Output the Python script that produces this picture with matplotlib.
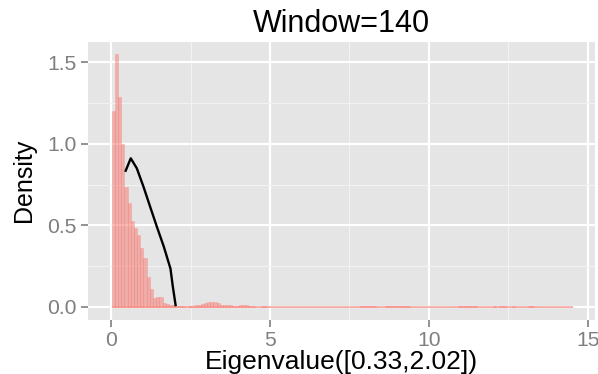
import numpy as np
import matplotlib
matplotlib.use("Agg")
import matplotlib.pyplot as plt
from matplotlib.ticker import MultipleLocator

plt.rcParams['font.family'] = ['Liberation Sans', 'DejaVu Sans']

# ---- data ----
bin_start = 0.02
bin_width = 0.1
hist_heights = (
    [1.20, 1.55, 1.29, 1.00, 0.735, 0.636, 0.528, 0.483, 0.442, 0.364,
     0.300, 0.186, 0.109, 0.055, 0.060, 0.062, 0.025, 0.018, 0.015, 0.012,
     0.008, 0.005, 0.003, 0.0, 0.004, 0.008, 0.010, 0.010, 0.018, 0.022,
     0.030, 0.030, 0.028, 0.022, 0.014, 0.012, 0.010, 0.010, 0.008, 0.008,
     0.010, 0.012, 0.012, 0.005, 0.004, 0.002, 0.0, 0.006, 0.006]
    + [0.0] * 29
    + [0.003, 0.003, 0.003, 0.003, 0.003, 0.002, 0.0, 0.002, 0.003,
       0.003, 0.003, 0.003, 0.003, 0.003, 0.003, 0.003, 0.002]
    + [0.0, 0.002, 0.0, 0.0, 0.002, 0.0, 0.0, 0.002, 0.0, 0.0, 0.002, 0.0, 0.002, 0.0]
    + [0.004, 0.004, 0.006, 0.004, 0.004, 0.003, 0.002, 0.0, 0.002, 0.0,
       0.002, 0.003, 0.002, 0.003, 0.003, 0.002, 0.0, 0.003, 0.002, 0.0,
       0.002, 0.0, 0.003, 0.003, 0.002]
    + [0.002, 0.0, 0.002, 0.0, 0.0, 0.002, 0.0, 0.002, 0.0, 0.002, 0.002]
)
bin_lefts = bin_start + bin_width * np.arange(len(hist_heights))

curve_x = [0.46, 0.62, 0.81, 1.02, 1.23, 1.44, 1.66, 1.87, 1.94, 2.03]
curve_y = [0.836, 0.912, 0.851, 0.738, 0.615, 0.493, 0.370, 0.235, 0.13, 0.012]

x_ticks = [0, 5, 10, 15]
y_ticks = [0.0, 0.5, 1.0, 1.5]
y_tick_labels = ["0.0", "0.5", "1.0", "1.5"]
title = "Window=140"
x_label = "Eigenvalue([0.33,2.02])"
y_label = "Density"

salmon = (248 / 255, 118 / 255, 109 / 255)

# ---- figure ----
fig = plt.figure(figsize=(5.98, 3.74), dpi=100)
ax = fig.add_axes([88 / 598, 1 - 319.6 / 374, 507 / 598, 277.9 / 374])
ax.set_facecolor("#E5E5E5")

ax.bar(bin_lefts, hist_heights, width=bin_width, align="edge",
       color=salmon + (0.5,), edgecolor=salmon + (0.3,), linewidth=0.6, zorder=3)
# outline of empty bins along the baseline
ax.hlines(0, bin_lefts[0], bin_lefts[-1] + bin_width, color=salmon + (0.55,),
          lw=1.3, zorder=3)
ax.plot(curve_x, curve_y, color="black", lw=1.7, zorder=4)

ax.set_xlim(-0.725, 15.225)
ax.set_ylim(-0.0775, 1.6275)

ax.xaxis.set_minor_locator(MultipleLocator(2.5))
ax.yaxis.set_minor_locator(MultipleLocator(0.25))
ax.set_xticks(x_ticks)
ax.set_yticks(y_ticks)
ax.set_yticklabels(y_tick_labels)

ax.grid(which="major", color="white", lw=1.6, zorder=1)
ax.grid(which="minor", color="#F2F2F2", lw=0.8, zorder=0.5)
ax.set_axisbelow(True)
for s in ax.spines.values():
    s.set_visible(False)

ax.tick_params(which="major", length=5, width=1.2, color="#7F7F7F",
               labelcolor="#7F7F7F", labelsize=15.2, pad=3)
ax.tick_params(which="minor", length=0)

ax.set_title(title, fontsize=22, pad=7)
ax.set_xlabel(x_label, fontsize=19, labelpad=0)
ax.set_ylabel(y_label, fontsize=18, labelpad=8)

fig.savefig("out.png", dpi=100)
